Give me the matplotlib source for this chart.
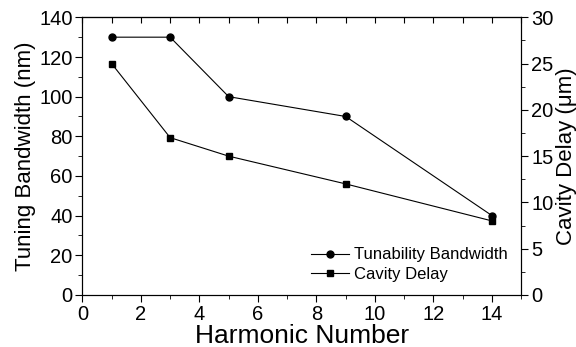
import matplotlib.pyplot as plt
from matplotlib.ticker import MultipleLocator

plt.rcParams['font.family'] = ['Liberation Sans', 'DejaVu Sans']

# Datos
harmonic = [1, 3, 5, 9, 14]
bandwidth = [130, 130, 100, 90, 40]   # nm
delay = [25, 17, 15, 12, 8]           # um

fig, ax = plt.subplots(figsize=(5.76, 3.47), dpi=100)
fig.subplots_adjust(left=0.143, right=0.905, top=0.95, bottom=0.15)
ax2 = ax.twinx()

l1, = ax.plot(harmonic, bandwidth, color='black', lw=0.8, marker='o', ms=5,
              label='Tunability Bandwidth')
l2, = ax2.plot(harmonic, delay, color='black', lw=0.8, marker='s', ms=5,
               label='Cavity Delay')

ax.set_xlim(0, 15)
ax.set_ylim(0, 140)
ax2.set_ylim(0, 30)
ax.xaxis.set_major_locator(MultipleLocator(2))
ax.xaxis.set_minor_locator(MultipleLocator(1))
ax.yaxis.set_major_locator(MultipleLocator(20))
ax.yaxis.set_minor_locator(MultipleLocator(10))
ax2.yaxis.set_major_locator(MultipleLocator(5))
ax2.yaxis.set_minor_locator(MultipleLocator(2.5))

for a in (ax, ax2):
    a.tick_params(which='both', direction='out', labelsize=14.5, pad=2)
    a.tick_params(which='major', length=5)
    a.tick_params(which='minor', length=3)

# ticks de arriba hacia adentro
top = ax.secondary_xaxis('top')
top.xaxis.set_major_locator(MultipleLocator(1))
top.tick_params(direction='in', length=4, labeltop=False)

ax.set_xlabel('Harmonic Number', fontsize=19, labelpad=0)
ax.set_ylabel('Tuning Bandwidth (nm)', fontsize=16, labelpad=2)
ax2.set_ylabel('Cavity Delay (\u03bcm)', fontsize=16, labelpad=2)

ax.legend([l1, l2], ['Tunability Bandwidth', 'Cavity Delay'], loc='lower right',
          frameon=False, fontsize=12, handlelength=2.3, borderaxespad=0.4,
          labelspacing=0.25, handletextpad=0.3)

plt.savefig('out.png', dpi=100)
